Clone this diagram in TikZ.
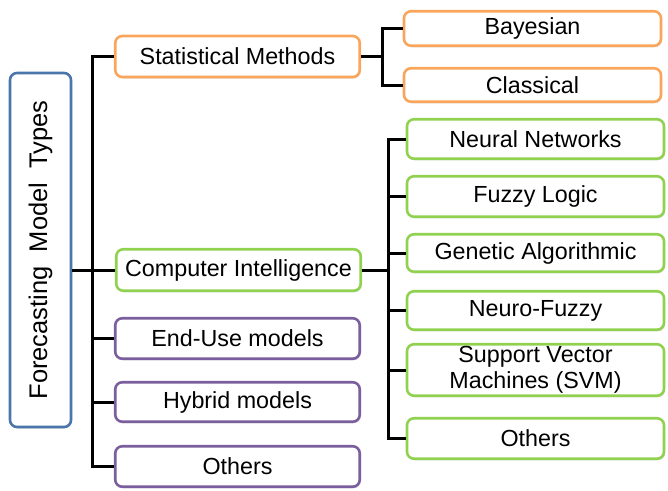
\documentclass[tikz,border=0pt]{standalone}
\usepackage{fontspec}
\setmainfont{Liberation Sans}
\usepackage{tikz}
\usetikzlibrary{shadows}
\definecolor{rootblue}{RGB}{74,118,172}
\definecolor{statorange}{RGB}{249,166,92}
\definecolor{cigreen}{RGB}{144,210,80}
\definecolor{otherpurple}{RGB}{122,94,158}
\tikzstyle{typebox} = [draw, fill=white, line width=2.6pt, rectangle, rounded corners=7pt, inner sep=0pt, align=center, font=\fontsize{23.3}{25.5}\selectfont, drop shadow={shadow xshift=1pt, shadow yshift=-1.5pt, opacity=0.25}]
\tikzstyle{leftbox} = [typebox, minimum width=244.5pt, minimum height=#1]
\tikzstyle{rightbox} = [typebox, minimum width=257pt, minimum height=#1]
\tikzstyle{link} = [draw=black, line width=3pt]

\begin{document}
\begin{tikzpicture}[x=1pt, y=-1pt]
\useasboundingbox (0,0) rectangle (668,490);
% root
\node [typebox, draw=rootblue, minimum width=61pt, minimum height=354pt] (root) at (40.5,250) {};
\node [rotate=90, font=\fontsize{25.5}{28}\selectfont] (roottext) at (root.center) {Forecasting\ \ Model\ \ Types};
% first level
\node [leftbox=41pt, draw=statorange] (stat) at (237.5,56.5) {Statistical Methods};
\node [leftbox=41.5pt, draw=cigreen] (ci) at (238.5,270) {Computer Intelligence};
\node [leftbox=40.5pt, draw=otherpurple] (enduse) at (237.5,338.5) {End-Use models};
\node [leftbox=39.5pt, draw=otherpurple] (hybrid) at (237.5,402) {Hybrid models};
\node [leftbox=40.5pt, draw=otherpurple] (others) at (237.5,466.5) {Others};
% statistical methods
\node [rightbox=34.5pt, draw=statorange] (bayes) at (532.5,28.5) {Bayesian};
\node [rightbox=33.5pt, draw=statorange] (classic) at (532.5,85) {Classical};
% computer intelligence
\node [rightbox=39.5pt, draw=cigreen] (neural) at (535.5,139) {Neural Networks};
\node [rightbox=40.5pt, draw=cigreen] (fuzzy) at (535.5,196.5) {Fuzzy Logic};
\node [rightbox=37.5pt, draw=cigreen] (genetic) at (535.5,253) {Genetic Algorithmic};
\node [rightbox=38.5pt, draw=cigreen] (neurofuzzy) at (535.5,310.5) {Neuro-Fuzzy};
\node [rightbox=51.5pt, draw=cigreen] (svm) at (535.5,370) {Support Vector\\Machines (SVM)};
\node [rightbox=40.5pt, draw=cigreen] (ciothers) at (535.5,438.5) {Others};
% connectors
\coordinate (trunk) at (92,0);
\coordinate (statjoin) at (382,0);
\coordinate (cijoin) at (388,0);
\draw [link] (root.east |- ci) -- (ci.west);
\draw [link] (stat.west) -| (trunk |- others) -- (others.west);
\draw [link] (trunk |- enduse) -- (enduse.west);
\draw [link] (trunk |- hybrid) -- (hybrid.west);
\draw [link] (stat.east) -- (statjoin |- stat);
\draw [link] (bayes.west) -| (statjoin |- classic) -- (classic.west);
\draw [link] (ci.east) -- (cijoin |- ci);
\draw [link] (neural.west) -| (cijoin |- ciothers) -- (ciothers.west);
\foreach \n in {fuzzy, genetic, neurofuzzy, svm}
    \draw [link] (cijoin |- \n) -- (\n.west);
\end{tikzpicture}
\end{document}
